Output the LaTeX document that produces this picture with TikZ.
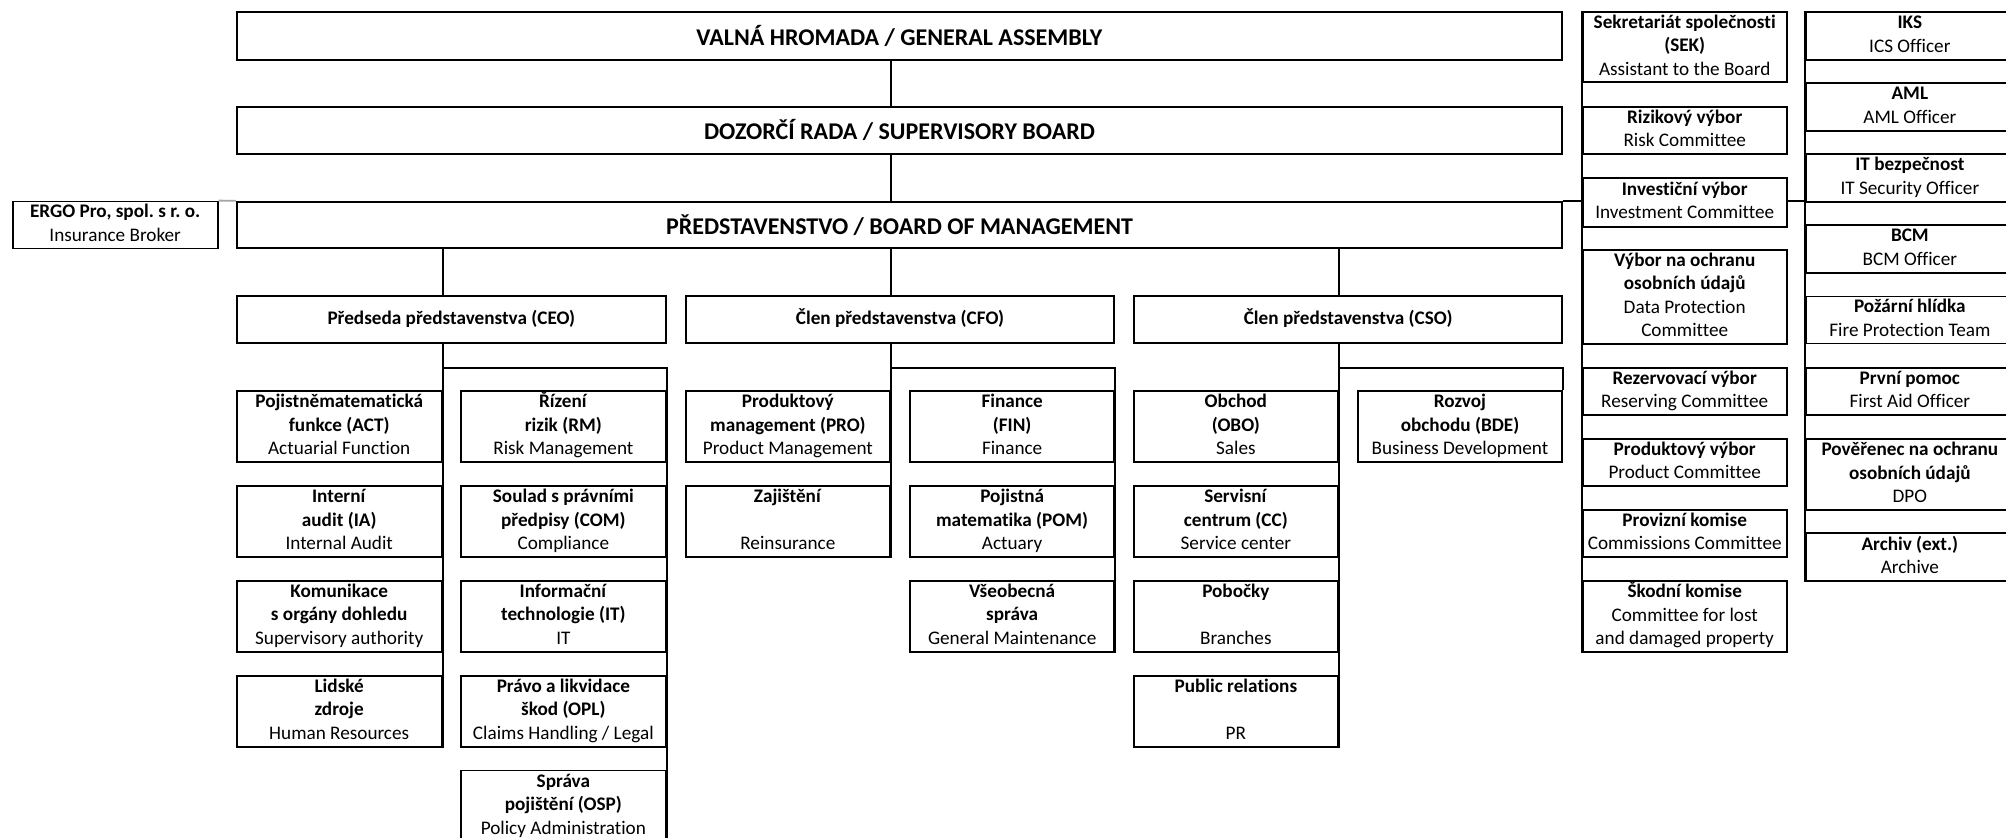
\documentclass[tikz,border=0pt]{standalone}
\usepackage{fontspec}
\setmainfont{Carlito}[Ligatures=NoCommon]
\frenchspacing
\newcommand\fsz{\fontsize{19.2}{23.5}\selectfont}
\newcommand\fbig{\fontsize{24}{28}\selectfont}
\newcommand\Bf[1]{\strut\textbf{#1}}
\newcommand\Nm[1]{\strut #1}
\tikzset{
  box/.style={draw, line width=1.8pt, inner sep=0pt, align=center, font=\fsz},
  bigbox/.style={box, font=\fbig},
  conn/.style={line width=1.8pt},
  faint/.style={line width=1.8pt, draw=black!35}
}
\newcommand\bx[6]{\node[box, minimum width={(#4-#2)*1pt}, minimum height={(#5-#3)*1pt}] (#1) at ({(#2+#4)/2},{(#3+#5)/2}) {#6};}
\newcommand\bigbx[6]{\node[bigbox, minimum width={(#4-#2)*1pt}, minimum height={(#5-#3)*1pt}] (#1) at ({(#2+#4)/2},{(#3+#5)/2}) {#6};}
\begin{document}
\begin{tikzpicture}[x=1pt, y=-1pt]
\path[use as bounding box, clip] (0,0) rectangle (2006,838);
\fill[white] (0,0) rectangle (2006,838);
% top level
\bigbx{GA}{236.7}{11.7}{1562.3}{60}{\textbf{VALNÁ HROMADA / GENERAL ASSEMBLY}}
\bigbx{DR}{236.7}{106.7}{1562.3}{154}{\textbf{DOZORČÍ RADA / SUPERVISORY BOARD}}
\bigbx{BOM}{236.7}{201.7}{1562.3}{248.3}{\textbf{PŘEDSTAVENSTVO / BOARD OF MANAGEMENT}}
\bx{ERGO}{12.7}{201.7}{217.7}{248.3}{\Bf{ERGO Pro, spol. s r. o.}\\ \Nm{Insurance Broker}}
% board members
\bx{CEO}{236.7}{296}{666}{343.3}{\Bf{Předseda představenstva (CEO)}}
\bx{CFO}{685.7}{296}{1114.3}{343.3}{\Bf{Člen představenstva (CFO)}}
\bx{CSO}{1134}{296}{1562.3}{343.3}{\Bf{Člen představenstva (CSO)}}
% CEO units
\bx{ACT}{236.7}{391}{441.7}{462}{\Bf{Pojistněmatematická}\\ \Bf{funkce (ACT)}\\ \Nm{Actuarial Function}}
\bx{IA}{236.7}{486}{441.7}{556.7}{\Bf{Interní}\\ \Bf{audit (IA)}\\ \Nm{Internal Audit}}
\bx{KOM}{236.7}{580.7}{441.7}{651.7}{\Bf{Komunikace}\\ \Bf{s orgány dohledu}\\ \Nm{Supervisory authority}}
\bx{HR}{236.7}{675.7}{441.7}{746.7}{\Bf{Lidské}\\ \Bf{zdroje}\\ \Nm{Human Resources}}
\bx{RM}{460.7}{391}{666}{462}{\Bf{Řízení}\\ \Bf{rizik (RM)}\\ \Nm{Risk Management}}
\bx{COM}{460.7}{486}{666}{556.7}{\Bf{Soulad s právními}\\ \Bf{předpisy (COM)}\\ \Nm{Compliance}}
\bx{IT}{460.7}{580.7}{666}{651.7}{\Bf{Informační}\\ \Bf{technologie (IT)}\\ \Nm{IT}}
\bx{OPL}{460.7}{675.7}{666}{746.7}{\Bf{Právo a likvidace}\\ \Bf{škod (OPL)}\\ \Nm{Claims Handling / Legal}}
\bx{OSP}{460.7}{770.5}{666}{841.5}{\Bf{Správa}\\ \Bf{pojištění (OSP)}\\ \Nm{Policy Administration}}
% CFO units
\bx{PRO}{685.7}{391}{890}{462}{\Bf{Produktový}\\ \Bf{management (PRO)}\\ \Nm{Product Management}}
\bx{ZAJ}{685.7}{486}{890}{556.7}{\Bf{Zajištění}\\ \Nm{}\\ \Nm{Reinsurance}}
\bx{FIN}{910}{391}{1114.3}{462}{\Bf{Finance}\\ \Bf{(FIN)}\\ \Nm{Finance}}
\bx{POM}{910}{486}{1114.3}{556.7}{\Bf{Pojistná}\\ \Bf{matematika (POM)}\\ \Nm{Actuary}}
\bx{VS}{910}{580.7}{1114.3}{651.7}{\Bf{Všeobecná}\\ \Bf{správa}\\ \Nm{General Maintenance}}
% CSO units
\bx{OBO}{1134}{391}{1337.7}{462}{\Bf{Obchod}\\ \Bf{(OBO)}\\ \Nm{Sales}}
\bx{CC}{1134}{486}{1337.7}{556.7}{\Bf{Servisní}\\ \Bf{centrum (CC)}\\ \Nm{Service center}}
\bx{POB}{1134}{580.7}{1337.7}{651.7}{\Bf{Pobočky}\\ \Nm{}\\ \Nm{Branches}}
\bx{PUB}{1134}{675.7}{1337.7}{746.7}{\Bf{Public relations}\\ \Nm{}\\ \Nm{PR}}
\bx{BDE}{1357.7}{391}{1562.3}{462}{\Bf{Rozvoj}\\ \Bf{obchodu (BDE)}\\ \Nm{Business Development}}
% committees
\bx{SEK}{1582.7}{11.7}{1786.7}{82.3}{\Bf{Sekretariát společnosti}\\ \Bf{(SEK)}\\ \Nm{Assistant to the Board}}
\bx{RIZ}{1582.7}{106.7}{1786.7}{154}{\Bf{Rizikový výbor}\\ \Nm{Risk Committee}}
\bx{INV}{1582.7}{178.3}{1786.7}{226.7}{\Bf{Investiční výbor}\\ \Nm{Investment Committee}}
\bx{DPC}{1582.7}{250}{1786.7}{343.3}{\Bf{Výbor na ochranu}\\ \Bf{osobních údajů}\\ \Nm{Data Protection}\\ \Nm{Committee}}
\bx{REZ}{1582.7}{367.7}{1786.7}{415}{\Bf{Rezervovací výbor}\\ \Nm{Reserving Committee}}
\bx{PRV}{1582.7}{439}{1786.7}{486}{\Bf{Produktový výbor}\\ \Nm{Product Committee}}
\bx{PROV}{1582.7}{510}{1786.7}{556.7}{\Bf{Provizní komise}\\ \Nm{Commissions Committee}}
\bx{SKO}{1582.7}{581}{1786.7}{651.7}{\Bf{Škodní komise}\\ \Nm{Committee for lost}\\ \Nm{and damaged property}}
% officers
\bx{IKS}{1805.7}{11.7}{2014}{60}{\Bf{IKS}\\ \Nm{ICS Officer}}
\bx{AML}{1805.7}{82.7}{2014}{131}{\Bf{AML}\\ \Nm{AML Officer}}
\bx{ITB}{1805.7}{154}{2014}{201.7}{\Bf{IT bezpečnost}\\ \Nm{IT Security Officer}}
\bx{BCM}{1805.7}{225}{2014}{272.7}{\Bf{BCM}\\ \Nm{BCM Officer}}
\bx{POZ}{1805.7}{296.7}{2014}{343.3}{\Bf{Požární hlídka}\\ \Nm{Fire Protection Team}}
\bx{FA}{1805.7}{367.7}{2014}{415}{\Bf{První pomoc}\\ \Nm{First Aid Officer}}
\bx{DPO}{1805.7}{439}{2014}{510}{\Bf{Pověřenec na ochranu}\\ \Bf{osobních údajů}\\ \Nm{DPO}}
\bx{ARCH}{1805.7}{533.3}{2014}{581}{\Bf{Archiv (ext.)}\\ \Nm{Archive}}
% branch points
\coordinate (ceoB) at (441.7,367.7);
\coordinate (cfoB) at (890,367.7);
\coordinate (csoB) at (1337.7,367.7);
% connectors
\draw[conn] (GA.south -| PRO.east) -- (DR.north -| PRO.east);
\draw[conn] (DR.south -| PRO.east) -- (BOM.north -| PRO.east);
\draw[conn] (BOM.south -| ACT.east) -- (CEO.north -| ACT.east);
\draw[conn] (BOM.south -| PRO.east) -- (CFO.north -| PRO.east);
\draw[conn] (BOM.south -| OBO.east) -- (CSO.north -| OBO.east);
\draw[conn] (CEO.south -| ACT.east) -- (HR.south east);
\draw[conn] (ceoB) -| (OSP.south east);
\draw[conn] (CFO.south -| PRO.east) -- (ZAJ.south east);
\draw[conn] (cfoB) -| (VS.south east);
\draw[conn] (CSO.south -| OBO.east) -- (PUB.south east);
\draw[conn] (csoB) -| (BDE.north east);
\draw[conn] (BOM.north east) -- (BOM.north east -| SEK.west);
\draw[conn] (BOM.north -| INV.east) -- (BOM.north -| IKS.west);
\draw[conn] (SEK.north west) -- (SKO.south west);
\draw[conn] (IKS.north west) -- (ARCH.south west);
\draw[faint] (ERGO.north east) -- (BOM.north west);
\end{tikzpicture}
\end{document}
